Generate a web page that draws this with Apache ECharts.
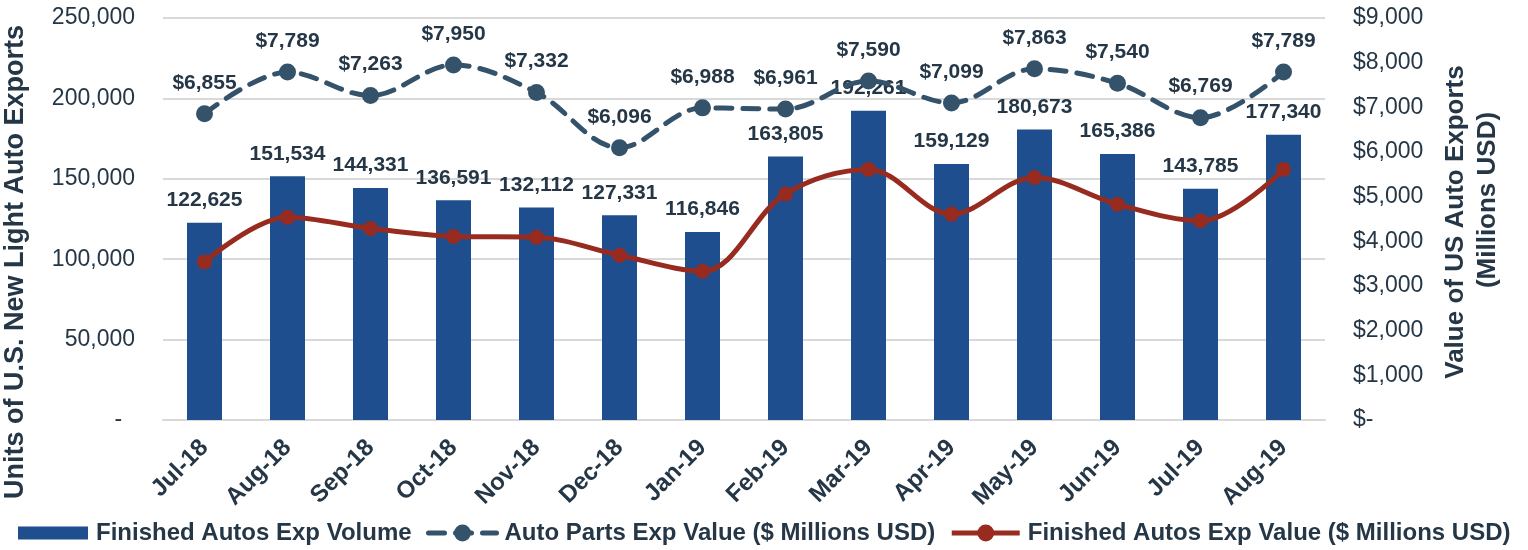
<!DOCTYPE html>
<html>
<head>
<meta charset="utf-8">
<script src="https://cdn.jsdelivr.net/npm/echarts@6/dist/echarts.min.js"></script>
<style>
  html, body { margin: 0; padding: 0; background: #fff; }
  #main { width: 1528px; height: 550px; }
</style>
</head>
<body>
<div id="main"></div>
<script>
// months shown on the x axis
var months = ['Jul-18', 'Aug-18', 'Sep-18', 'Oct-18', 'Nov-18', 'Dec-18', 'Jan-19',
  'Feb-19', 'Mar-19', 'Apr-19', 'May-19', 'Jun-19', 'Jul-19', 'Aug-19'];

// units (left axis)
var finishedVolume = [122625, 151534, 144331, 136591, 132112, 127331, 116846,
  163805, 192261, 159129, 180673, 165386, 143785, 177340];

// $ millions (right axis)
var partsValue = [6855, 7789, 7263, 7950, 7332, 6096, 6988,
  6961, 7590, 7099, 7863, 7540, 6769, 7789];

// no labels in the picture
var finishedValue = [3540, 4540, 4290, 4110, 4090, 3690, 3330,
  5060, 5610, 4610, 5430, 4830, 4460, 5610];

var textColor = '#253746';
var fontName = '"Liberation Sans", Arial, sans-serif';

function fmt(v) {
  return v.toString().replace(/\B(?=(\d{3})+(?!\d))/g, ',');
}

var chart = echarts.init(document.getElementById('main'));

var legendText = { fontSize: 24, fontWeight: 'bold', color: textColor, fontFamily: fontName, padding: [0, 0, 0, 3] };

var option = {
  backgroundColor: '#fff',
  textStyle: { fontFamily: fontName, color: textColor },
  grid: { left: 163, right: 203, top: 18, bottom: 130 },
  legend: [
    {
      bottom: 0,
      left: 13,
      itemWidth: 70,
      itemHeight: 13,
      textStyle: legendText,
      data: [{ name: 'Finished Autos Exp Volume', icon: 'rect' }]
    },
    {
      bottom: 0,
      left: 421,
      itemWidth: 68,
      itemHeight: 21,
      itemGap: 14,
      textStyle: legendText,
      data: [
        { name: 'Auto Parts Exp Value ($ Millions USD)', lineStyle: { width: 5 } },
        { name: 'Finished Autos Exp Value ($ Millions USD)', lineStyle: { width: 5 } }
      ]
    }
  ],
  graphic: [
    {
      type: 'text', x: 16, y: 262, rotation: Math.PI / 2,
      style: {
        text: 'Units of U.S. New Light Auto Exports',
        font: 'bold 27px ' + fontName, fill: textColor,
        align: 'center', verticalAlign: 'middle'
      }
    },
    {
      type: 'text', x: 1456, y: 222, rotation: Math.PI / 2,
      style: {
        text: 'Value of US Auto Exports',
        font: 'bold 26px ' + fontName, fill: textColor,
        align: 'center', verticalAlign: 'middle'
      }
    },
    {
      type: 'text', x: 1488, y: 200, rotation: Math.PI / 2,
      style: {
        text: '(Millions USD)',
        font: 'bold 26px ' + fontName, fill: textColor,
        align: 'center', verticalAlign: 'middle'
      }
    }
  ],
  xAxis: {
    type: 'category',
    data: months,
    axisLine: { lineStyle: { color: '#D9D9D9', width: 2 } },
    axisTick: { show: false },
    axisLabel: {
      rotate: 45,
      interval: 0,
      margin: 24,
      fontSize: 24,
      fontWeight: 'bold',
      color: textColor,
      fontFamily: fontName
    }
  },
  yAxis: [
    {
      type: 'value',
      min: 0, max: 250000, interval: 50000,
      axisLine: { show: false },
      axisTick: { show: false },
      splitLine: { lineStyle: { color: '#D9D9D9', width: 2 } },
      axisLabel: {
        margin: 28,
        fontSize: 23,
        color: textColor,
        fontFamily: fontName,
        formatter: function (v) { return v === 0 ? '-  ' : fmt(v); }
      }
    },
    {
      type: 'value',
      min: 0, max: 9000, interval: 1000,
      position: 'right',
      axisLine: { show: false },
      axisTick: { show: false },
      splitLine: { show: false },
      axisLabel: {
        margin: 28,
        fontSize: 23,
        color: textColor,
        fontFamily: fontName,
        formatter: function (v) { return v === 0 ? '$-' : '$' + fmt(v); }
      }
    }
  ],
  series: [
    {
      name: 'Finished Autos Exp Volume',
      type: 'bar',
      data: finishedVolume,
      barWidth: 35,
      itemStyle: { color: '#1F4E8E' },
      label: {
        show: true,
        position: 'top',
        distance: 12,
        fontSize: 21,
        fontWeight: 'bold',
        color: textColor,
        fontFamily: fontName,
        formatter: function (p) { return fmt(p.value); }
      },
      z: 2
    },
    {
      name: 'Auto Parts Exp Value ($ Millions USD)',
      type: 'line',
      yAxisIndex: 1,
      data: partsValue,
      smooth: 0.35,
      symbol: 'circle',
      symbolSize: 17,
      itemStyle: { color: '#34526A' },
      lineStyle: { color: '#34526A', width: 5, type: [16, 11], cap: 'round' },
      label: {
        show: true,
        position: 'top',
        distance: 12,
        fontSize: 21,
        fontWeight: 'bold',
        color: textColor,
        fontFamily: fontName,
        formatter: function (p) { return '$' + fmt(p.value); }
      },
      z: 4
    },
    {
      name: 'Finished Autos Exp Value ($ Millions USD)',
      type: 'line',
      yAxisIndex: 1,
      data: finishedValue,
      smooth: 0.35,
      symbol: 'circle',
      symbolSize: 15,
      itemStyle: { color: '#982B1F' },
      lineStyle: { color: '#982B1F', width: 5 },
      z: 3
    }
  ]
};

chart.setOption(option);
</script>
</body>
</html>
